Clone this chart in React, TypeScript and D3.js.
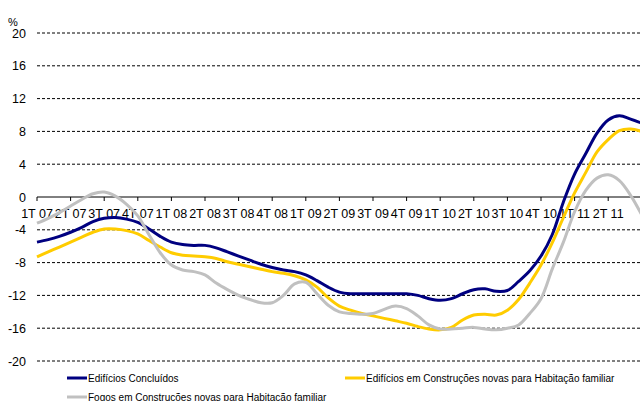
import React from "react";
import * as d3 from "d3";

// Quarterly category labels (one tick per quarter)
const quarterLabels = [
  "1T 07", "2T 07", "3T 07", "4T 07",
  "1T 08", "2T 08", "3T 08", "4T 08",
  "1T 09", "2T 09", "3T 09", "4T 09",
  "1T 10", "2T 10", "3T 10", "4T 10",
  "1T 11", "2T 11",
];

const yTicks = [20, 16, 12, 8, 4, 0, -4, -8, -12, -16, -20];

// Monthly-resolution readings (3 points per quarter)
const edificiosConcluidos = [
  -5.5, -5.2, -4.8, -4.3, -3.7, -3.0, -2.6, -2.5, -2.7, -3.1, -3.9, -4.8,
  -5.5, -5.8, -5.9, -5.9, -6.2, -6.7, -7.2, -7.7, -8.2, -8.6, -8.9, -9.1,
  -9.5, -10.2, -11.0, -11.6, -11.8, -11.8, -11.8, -11.8, -11.8, -11.8, -12.0, -12.4,
  -12.6, -12.4, -11.8, -11.3, -11.2, -11.5, -11.4, -10.3, -9.0, -7.2, -4.6, -0.6,
  2.8, 5.3, 7.8, 9.4, 9.9, 9.5, 9.0,
];

const edificiosConstrucoesNovas = [
  -7.3, -6.7, -6.1, -5.5, -4.9, -4.3, -3.9, -3.9, -4.1, -4.5, -5.3, -6.1,
  -6.8, -7.1, -7.2, -7.3, -7.5, -7.9, -8.2, -8.5, -8.8, -9.1, -9.3, -9.6,
  -10.1, -11.0, -12.3, -13.3, -13.8, -14.2, -14.5, -14.8, -15.1, -15.4, -15.8, -16.1,
  -16.2, -15.9, -15.0, -14.4, -14.3, -14.4, -13.8, -12.5, -10.5, -8.3, -5.6, -2.5,
  0.5, 3.0, 5.5, 7.0, 8.1, 8.3, 8.0,
];

const fogosConstrucoesNovas = [
  -3.2, -2.6, -1.9, -1.1, -0.3, 0.4, 0.6, 0.1, -0.9, -2.3, -4.6, -6.8,
  -8.3, -8.9, -9.1, -9.5, -10.5, -11.3, -12.0, -12.5, -12.9, -12.9, -12.0, -10.6,
  -10.4, -11.8, -13.2, -14.0, -14.2, -14.3, -14.2, -13.7, -13.3, -13.6, -14.5, -15.6,
  -16.1, -16.1, -16.0, -15.9, -16.1, -16.2, -16.0, -15.6, -14.2, -12.4, -8.8, -5.5,
  -1.8, 0.8, 2.3, 2.7, 2.0, 0.2, -2.2,
];

const seriesNames = [
  "Edifícios Concluídos",
  "Edifícios em Construções novas para Habitação  familiar",
  "Fogos em Construções novas para Habitação  familiar",
];
const seriesColors = ["#000080", "#FFCC00", "#C0C0C0"];

export default function App() {
  const W = 640;
  const H = 401;
  const left = 37;
  const step = 11.2;
  const nPts = edificiosConcluidos.length;
  const x = d3.scaleLinear().domain([0, nPts - 1]).range([left, left + step * (nPts - 1)]);
  const y = d3.scaleLinear().domain([-20, 20]).range([361, 33]);
  const line = d3
    .line<number>()
    .x((_, i) => x(i))
    .y((d) => y(d))
    .curve(d3.curveCatmullRom.alpha(0.5));

  const series = [edificiosConcluidos, edificiosConstrucoesNovas, fogosConstrucoesNovas];
  const font = "'Liberation Sans', Arial, sans-serif";

  return (
    <svg
      width={W}
      height={H}
      style={{ position: "absolute", left: 0, top: 0, background: "#fff" }}
      fontFamily={font}
    >
      <rect x={0} y={0} width={W} height={H} fill="#fff" />
      <text x={8} y={25.5} fontSize={11} fill="#000">%</text>
      {yTicks.map((t) => (
        <g key={t}>
          {t !== 0 && (
            <line
              x1={left}
              x2={W}
              y1={y(t)}
              y2={y(t)}
              stroke="#000"
              strokeWidth={1}
              strokeDasharray="3,2"
            />
          )}
          <text
            x={26}
            y={y(t)}
            dy="0.36em"
            fontSize={12.5}
            textAnchor="end"
            fill="#000"
          >
            {t}
          </text>
        </g>
      ))}
      <line x1={left} x2={W} y1={y(0)} y2={y(0)} stroke="#000" strokeWidth={1} />
      {d3.range(quarterLabels.length + 1).map((i) => (
        <line
          key={"tk" + i}
          x1={x(i * 3)}
          x2={x(i * 3)}
          y1={y(0)}
          y2={y(0) + 4}
          stroke="#000"
          strokeWidth={1}
        />
      ))}
      {quarterLabels.map((lab, i) => (
        <text
          key={lab}
          x={x(i * 3)}
          y={y(0) + 16}
          dy="0.36em"
          fontSize={12.5}
          textAnchor="middle"
          fill="#000"
        >
          {lab}
        </text>
      ))}
      {series.map((s, k) => (
        <path
          key={"s" + k}
          d={line(s) || ""}
          fill="none"
          stroke={seriesColors[k]}
          strokeWidth={3}
        />
      ))}
      {[
        { k: 0, lx: 67, ly: 378 },
        { k: 1, lx: 345, ly: 378 },
        { k: 2, lx: 67, ly: 397 },
      ].map(({ k, lx, ly }) => (
        <g key={"lg" + k}>
          <line x1={lx} x2={lx + 20} y1={ly} y2={ly} stroke={seriesColors[k]} strokeWidth={3} />
          <text x={lx + 21} y={ly} dy="0.36em" fontSize={10} fill="#000">
            {seriesNames[k]}
          </text>
        </g>
      ))}
    </svg>
  );
}
